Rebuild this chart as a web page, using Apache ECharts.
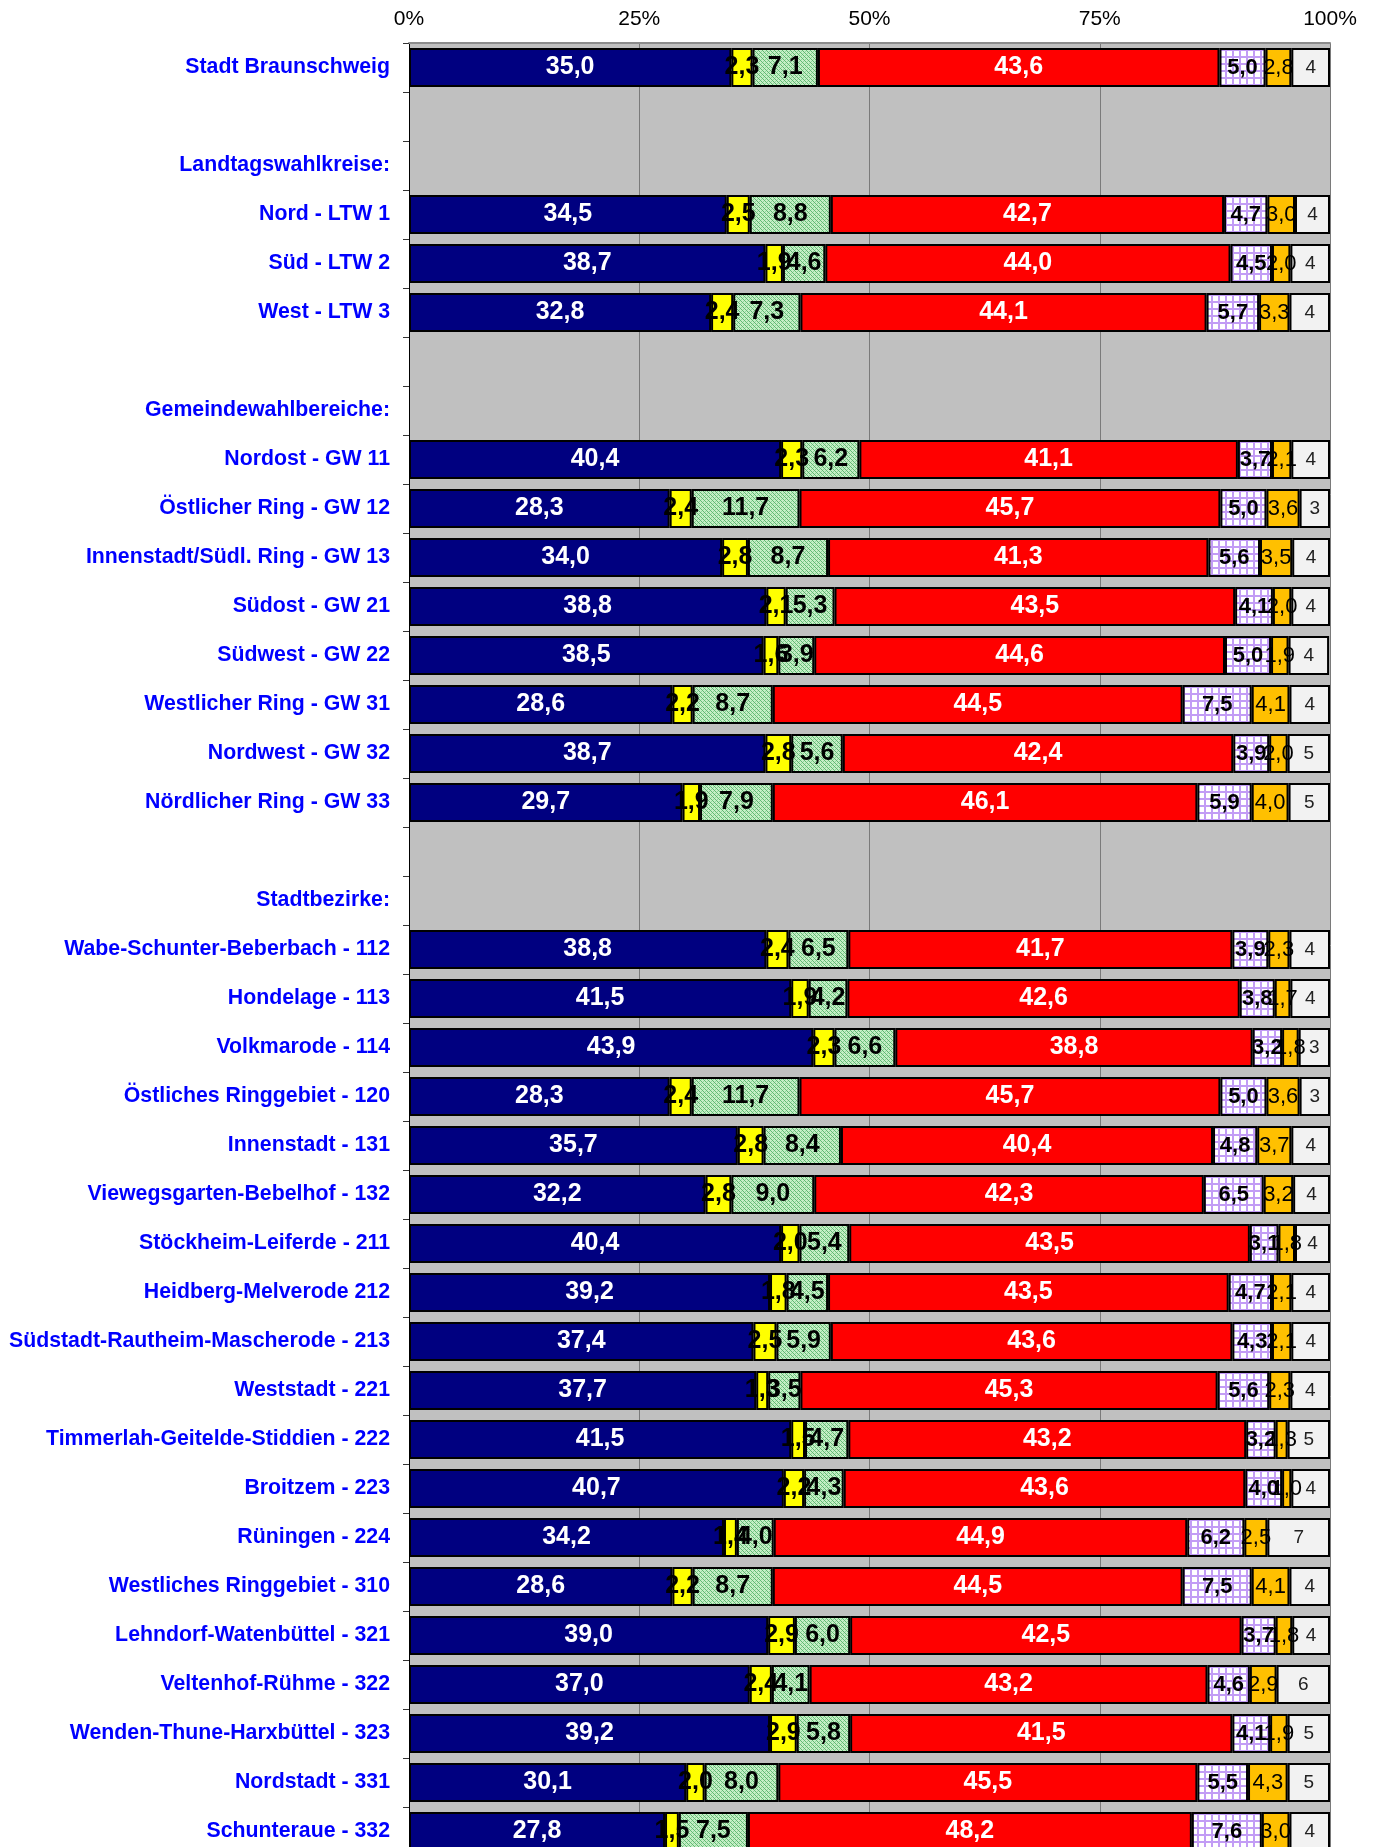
<!DOCTYPE html>
<html>
<head>
<meta charset="utf-8">
<script src="https://cdn.jsdelivr.net/npm/echarts@6/dist/echarts.min.js"></script>
<style>
html,body{margin:0;padding:0;background:#fff;}
#chart{width:1373px;height:1847px;}
</style>
</head>
<body>
<div id="chart"></div>
<script>
const categories = ['Stadt Braunschweig',' ','Landtagswahlkreise:','Nord - LTW 1','Süd - LTW 2','West - LTW 3','  ','Gemeindewahlbereiche:','Nordost - GW 11','Östlicher Ring - GW 12','Innenstadt/Südl. Ring - GW 13','Südost - GW 21','Südwest - GW 22','Westlicher Ring - GW 31','Nordwest - GW 32','Nördlicher Ring - GW 33','   ','Stadtbezirke:','Wabe-Schunter-Beberbach - 112','Hondelage - 113','Volkmarode - 114','Östliches Ringgebiet - 120','Innenstadt - 131','Viewegsgarten-Bebelhof - 132','Stöckheim-Leiferde - 211','Heidberg-Melverode 212','Südstadt-Rautheim-Mascherode - 213','Weststadt - 221','Timmerlah-Geitelde-Stiddien - 222','Broitzem - 223','Rüningen - 224','Westliches Ringgebiet - 310','Lehndorf-Watenbüttel - 321','Veltenhof-Rühme - 322','Wenden-Thune-Harxbüttel - 323','Nordstadt - 331','Schunteraue - 332'];
const n = null;
const cdu    = [35.0,n,n,34.5,38.7,32.8,n,n,40.4,28.3,34.0,38.8,38.5,28.6,38.7,29.7,n,n,38.8,41.5,43.9,28.3,35.7,32.2,40.4,39.2,37.4,37.7,41.5,40.7,34.2,28.6,39.0,37.0,39.2,30.1,27.8];
const fdp    = [2.3,n,n,2.5,1.9,2.4,n,n,2.3,2.4,2.8,2.1,1.6,2.2,2.8,1.9,n,n,2.4,1.9,2.3,2.4,2.8,2.8,2.0,1.8,2.5,1.3,1.5,2.2,1.4,2.2,2.9,2.4,2.9,2.0,1.5];
const gruene = [7.1,n,n,8.8,4.6,7.3,n,n,6.2,11.7,8.7,5.3,3.9,8.7,5.6,7.9,n,n,6.5,4.2,6.6,11.7,8.4,9.0,5.4,4.5,5.9,3.5,4.7,4.3,4.0,8.7,6.0,4.1,5.8,8.0,7.5];
const spd    = [43.6,n,n,42.7,44.0,44.1,n,n,41.1,45.7,41.3,43.5,44.6,44.5,42.4,46.1,n,n,41.7,42.6,38.8,45.7,40.4,42.3,43.5,43.5,43.6,45.3,43.2,43.6,44.9,44.5,42.5,43.2,41.5,45.5,48.2];
const linke  = [5.0,n,n,4.7,4.5,5.7,n,n,3.7,5.0,5.6,4.1,5.0,7.5,3.9,5.9,n,n,3.9,3.8,3.2,5.0,4.8,6.5,3.1,4.7,4.3,5.6,3.2,4.0,6.2,7.5,3.7,4.6,4.1,5.5,7.6];
const andere = [2.8,n,n,3.0,2.0,3.3,n,n,2.1,3.6,3.5,2.0,1.9,4.1,2.0,4.0,n,n,2.3,1.7,1.8,3.6,3.7,3.2,1.8,2.1,2.1,2.3,1.3,1.0,2.5,4.1,1.8,2.9,1.9,4.3,3.0];
const rest   = [4.2,n,n,3.8,4.3,4.4,n,n,4.2,3.3,4.1,4.2,4.4,4.4,4.6,4.5,n,n,4.4,4.3,3.4,3.3,4.2,4.0,3.8,4.2,4.2,4.3,4.6,4.2,6.8,4.4,4.1,5.8,4.6,4.6,4.4];
const xTicks = [0,25,50,75,100];

function makePattern(kind){
  const c = document.createElement('canvas');
  if(kind==='green'){
    c.width=4;c.height=4;
    const g=c.getContext('2d');
    g.fillStyle='#c6efc6';g.fillRect(0,0,4,4);
    g.fillStyle='#5fb872';
    g.fillRect(0,0,1,1);g.fillRect(1,1,1,1);g.fillRect(2,2,1,1);g.fillRect(3,3,1,1);
    g.fillStyle='#8fd49c';
    g.fillRect(3,1,1,1);g.fillRect(1,3,1,1);
  } else {
    c.width=7;c.height=7;
    const g=c.getContext('2d');
    g.fillStyle='#ffffff';g.fillRect(0,0,7,7);
    g.fillStyle='#c29cf5';
    g.fillRect(0,0,2,7);g.fillRect(0,0,7,2);
  }
  return {image:c, repeat:'repeat'};
}

const FONT = '"Liberation Sans", Arial, sans-serif';
const fmt1 = p => (p.value==null?'':p.value.toFixed(1).replace('.',','));
const fmt0 = p => (p.value==null?'':String(Math.round(p.value)));

function ser(name, data, color, lblColor, weight, size, fmt){
  return {
    name, type:'bar', stack:'all', data, barWidth:39,
    itemStyle:{color, borderColor:'#000', borderWidth:2},
    label:{show:true, position:'inside', color:lblColor, fontFamily:FONT, fontWeight:weight, fontSize:size, formatter:fmt},
    emphasis:{disabled:true}, animation:false
  };
}

const chart = echarts.init(document.getElementById('chart'), null, {renderer:'canvas'});
chart.setOption({
  animation:false,
  grid:{left:409, top:43, width:921, height:1813, show:true, backgroundColor:'#c0c0c0', borderWidth:0, containLabel:false, outerBoundsMode:'none'},
  xAxis:{
    type:'value', position:'top', min:0, max:100, interval:25,
    axisLine:{show:true, lineStyle:{color:'#8c8c8c', width:2}},
    axisTick:{show:false},
    splitLine:{show:true, lineStyle:{color:'#7a7a7a', width:1}},
    axisLabel:{formatter:v=> xTicks.includes(v)? v+'%' : '', color:'#000', fontFamily:FONT, fontSize:21, margin:13}
  },
  yAxis:{
    type:'category', inverse:true, data:categories,
    axisLine:{show:true, lineStyle:{color:'#000', width:1}},
    axisTick:{show:true, length:6, lineStyle:{color:'#333'}},
    axisLabel:{color:'#0000ff', fontFamily:FONT, fontWeight:'bold', fontSize:21.3, margin:19}
  },
  series:[
    ser('CDU', cdu, '#000080', '#fff', 'bold', 25, fmt1),
    ser('FDP', fdp, '#ffff00', '#000', 'bold', 25, fmt1),
    ser('GRÜNE', gruene, makePattern('green'), '#000', 'bold', 25, fmt1),
    ser('SPD', spd, '#ff0000', '#fff', 'bold', 25, fmt1),
    ser('DIE LINKE', linke, makePattern('purple'), '#000', 'bold', 22, fmt1),
    ser('Andere', andere, '#ffc000', '#000', 'normal', 22, fmt1),
    ser('Rest', rest, '#f2f2f2', '#222', 'normal', 19, fmt0)
  ]
});
</script>
</body>
</html>
